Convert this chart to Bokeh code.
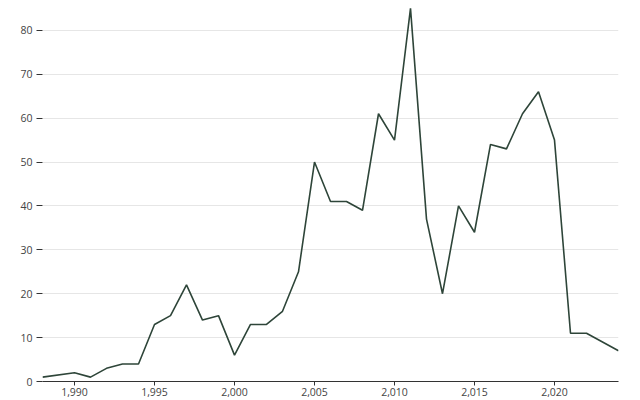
from bokeh.plotting import figure
from bokeh.models import NumeralTickFormatter, FixedTicker, Range1d
from bokeh.embed import file_html
from bokeh.resources import INLINE

years = [1988, 1990, 1991, 1992, 1993, 1994, 1995, 1996, 1997, 1998, 1999,
         2000, 2001, 2002, 2003, 2004, 2005, 2006, 2007, 2008, 2009, 2010,
         2011, 2012, 2013, 2014, 2015, 2016, 2017, 2018, 2019, 2020, 2021,
         2022, 2023, 2024]
counts = [1, 2, 1, 3, 4, 4, 13, 15, 22, 14, 15,
          6, 13, 13, 16, 25, 50, 41, 41, 39, 61, 55,
          85, 37, 20, 40, 34, 54, 53, 61, 66, 55, 11,
          11, 9, 7]
x_ticks = [1990, 1995, 2000, 2005, 2010, 2015, 2020]
y_ticks = [0, 10, 20, 30, 40, 50, 60, 70, 80]

p = figure(width=640, height=400, output_backend="svg", toolbar_location=None,
           x_range=Range1d(1988, 2024), y_range=Range1d(0, 86.8),
           min_border_left=42, min_border_right=22, min_border_top=0,
           min_border_bottom=19)
p.outline_line_color = None
p.background_fill_color = "white"
p.border_fill_color = "white"

p.line(years, counts, line_color="#2e4539", line_width=1.6)

font = "Open Sans"
p.xaxis.ticker = FixedTicker(ticks=x_ticks)
p.xaxis.formatter = NumeralTickFormatter(format="0,0")
p.xaxis.axis_line_color = "#333333"
p.xaxis.axis_line_width = 1.2
p.xaxis.major_tick_line_color = "#333333"
p.xaxis.major_tick_in = 0
p.xaxis.major_tick_out = 4
p.xaxis.minor_tick_line_color = None
p.xaxis.major_label_text_font = font
p.xaxis.major_label_text_font_size = "10.5px"
p.xaxis.major_label_text_color = "#444444"
p.xaxis.major_label_standoff = 2

p.yaxis.ticker = FixedTicker(ticks=y_ticks)
p.yaxis.axis_line_color = None
p.yaxis.major_tick_line_color = "#333333"
p.yaxis.major_tick_in = 0
p.yaxis.major_tick_out = 6
p.yaxis.minor_tick_line_color = None
p.yaxis.major_label_text_font = font
p.yaxis.major_label_text_font_size = "10.5px"
p.yaxis.major_label_text_color = "#444444"
p.yaxis.major_label_standoff = 4

p.xgrid.grid_line_color = None
p.ygrid.grid_line_color = "#e6e6e6"
p.ygrid.grid_line_width = 1

open("out.html", "w").write(file_html(p, INLINE))
